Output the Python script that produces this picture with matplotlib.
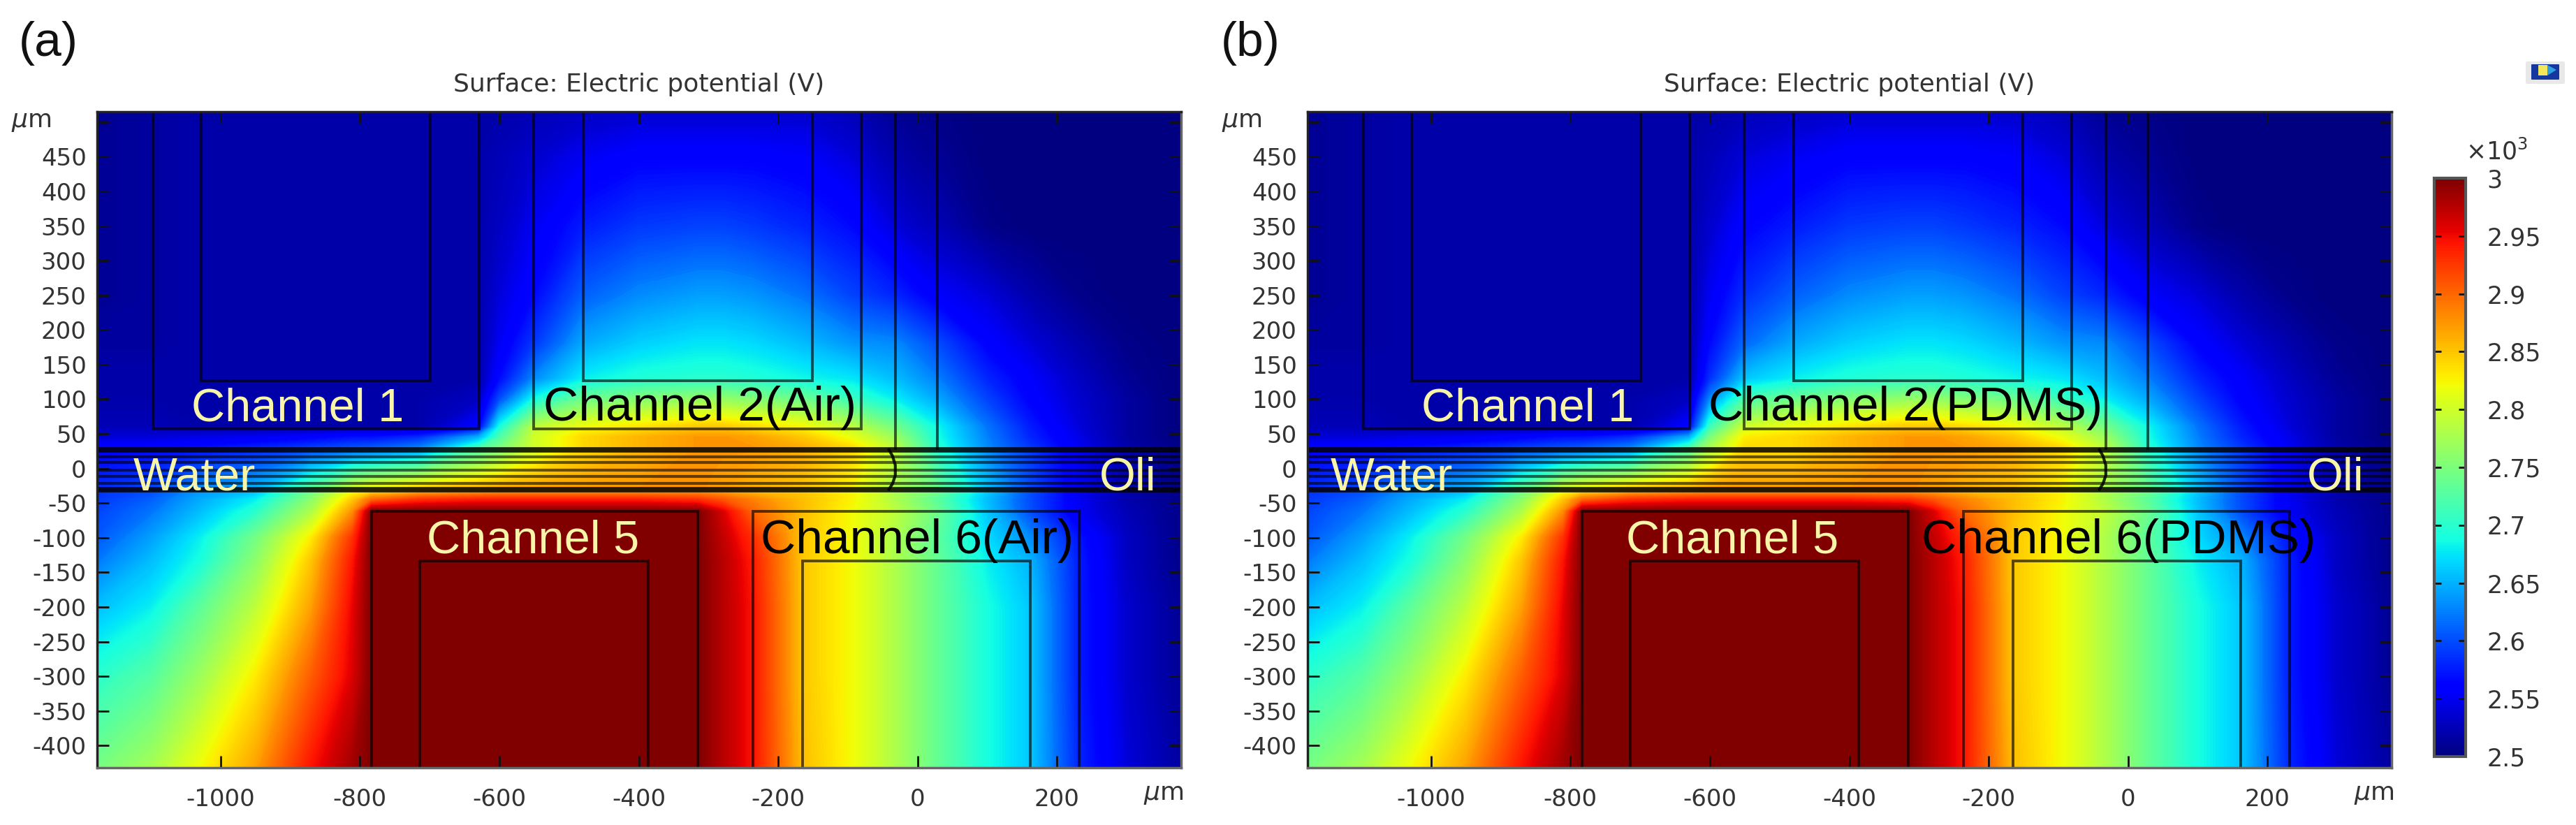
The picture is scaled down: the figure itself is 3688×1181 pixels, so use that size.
import numpy as np
import matplotlib
matplotlib.use('Agg')
from matplotlib import pyplot as plt
from matplotlib.patches import FancyBboxPatch, Rectangle, Polygon

plt.rcParams['axes.unicode_minus'] = False

W, H = 3688, 1181

# field nodes, um
x_nodes = [-1180, -1100, -1030, -950, -870, -810, -783, -715, -630, -600, -550, -480, -400,
           -315, -280, -236, -165, -93, -32, 28, 100, 162, 232, 300, 378]
y_nodes = [515, 450, 350, 250, 180, 130, 100, 60, 45, 29, -33, -45, -62, -100, -133, -200, -300, -432]

# potential in kV, one row per y node
row_515 = [2.51, 2.515, 2.52, 2.52, 2.52, 2.52, 2.52, 2.52, 2.52, 2.52, 2.525, 2.53, 2.535, 2.535, 2.535, 2.535, 2.535, 2.525, 2.51, 2.505, 2.5, 2.5, 2.5, 2.5, 2.5]
row_450 = [2.51, 2.515, 2.52, 2.52, 2.52, 2.52, 2.52, 2.52, 2.52, 2.525, 2.535, 2.55, 2.56, 2.56, 2.56, 2.56, 2.555, 2.54, 2.52, 2.51, 2.5, 2.5, 2.5, 2.5, 2.5]
row_350 = [2.51, 2.515, 2.52, 2.52, 2.52, 2.52, 2.52, 2.52, 2.52, 2.53, 2.55, 2.575, 2.59, 2.595, 2.595, 2.59, 2.58, 2.565, 2.54, 2.525, 2.505, 2.5, 2.5, 2.5, 2.5]
row_250 = [2.51, 2.515, 2.52, 2.52, 2.52, 2.52, 2.52, 2.52, 2.52, 2.54, 2.565, 2.61, 2.63, 2.64, 2.64, 2.635, 2.62, 2.595, 2.58, 2.555, 2.54, 2.52, 2.505, 2.5, 2.5]
row_180 = [2.515, 2.515, 2.52, 2.52, 2.52, 2.52, 2.52, 2.52, 2.52, 2.55, 2.59, 2.645, 2.665, 2.675, 2.675, 2.67, 2.655, 2.635, 2.63, 2.6, 2.56, 2.54, 2.52, 2.505, 2.5]
row_130 = [2.52, 2.52, 2.52, 2.52, 2.52, 2.52, 2.52, 2.52, 2.52, 2.565, 2.63, 2.68, 2.695, 2.7, 2.7, 2.695, 2.685, 2.675, 2.655, 2.625, 2.58, 2.555, 2.53, 2.51, 2.5]
row_100 = [2.52, 2.52, 2.52, 2.52, 2.52, 2.52, 2.52, 2.52, 2.53, 2.6, 2.69, 2.74, 2.755, 2.765, 2.765, 2.755, 2.74, 2.71, 2.68, 2.645, 2.595, 2.56, 2.535, 2.515, 2.5]
row_60 = [2.525, 2.525, 2.52, 2.52, 2.52, 2.52, 2.52, 2.52, 2.56, 2.69, 2.79, 2.82, 2.835, 2.85, 2.85, 2.84, 2.825, 2.79, 2.745, 2.685, 2.62, 2.575, 2.54, 2.515, 2.5]
row_45 = [2.54, 2.54, 2.545, 2.55, 2.56, 2.57, 2.57, 2.585, 2.65, 2.72, 2.8, 2.84, 2.86, 2.875, 2.875, 2.87, 2.85, 2.815, 2.77, 2.69, 2.625, 2.58, 2.545, 2.515, 2.5]
row_29 = [2.56, 2.565, 2.57, 2.58, 2.595, 2.605, 2.61, 2.63, 2.72, 2.75, 2.8, 2.84, 2.86, 2.875, 2.875, 2.875, 2.865, 2.84, 2.79, 2.7, 2.63, 2.59, 2.55, 2.52, 2.505]
row_m33 = [2.585, 2.6, 2.635, 2.655, 2.74, 2.82, 2.84, 2.86, 2.87, 2.875, 2.875, 2.875, 2.875, 2.875, 2.87, 2.86, 2.85, 2.825, 2.78, 2.74, 2.66, 2.6, 2.55, 2.52, 2.505]
row_m45 = [2.59, 2.61, 2.645, 2.68, 2.76, 2.85, 2.9, 2.93, 2.94, 2.94, 2.94, 2.94, 2.94, 2.93, 2.91, 2.885, 2.855, 2.825, 2.78, 2.73, 2.655, 2.6, 2.55, 2.52, 2.505]
row_m62 = [2.595, 2.62, 2.655, 2.7, 2.78, 2.88, 3, 3, 3, 3, 3, 3, 3, 3, 2.96, 2.9, 2.855, 2.82, 2.79, 2.74, 2.66, 2.6, 2.55, 2.525, 2.505]
row_m100 = [2.605, 2.64, 2.68, 2.745, 2.83, 2.93, 3, 3, 3, 3, 3, 3, 3, 3, 2.97, 2.93, 2.85, 2.82, 2.78, 2.73, 2.67, 2.63, 2.57, 2.53, 2.505]
row_m133 = [2.62, 2.655, 2.69, 2.76, 2.85, 2.945, 3, 3, 3, 3, 3, 3, 3, 3, 2.975, 2.94, 2.85, 2.82, 2.78, 2.735, 2.68, 2.65, 2.575, 2.53, 2.505]
row_m200 = [2.655, 2.68, 2.73, 2.79, 2.87, 2.955, 3, 3, 3, 3, 3, 3, 3, 3, 2.975, 2.945, 2.85, 2.82, 2.78, 2.735, 2.69, 2.66, 2.575, 2.535, 2.51]
row_m300 = [2.7, 2.725, 2.77, 2.83, 2.905, 2.96, 3, 3, 3, 3, 3, 3, 3, 3, 2.975, 2.945, 2.85, 2.82, 2.78, 2.735, 2.69, 2.66, 2.575, 2.535, 2.51]
row_m432 = [2.745, 2.775, 2.82, 2.87, 2.945, 2.985, 3, 3, 3, 3, 3, 3, 3, 3, 2.975, 2.945, 2.855, 2.82, 2.78, 2.735, 2.69, 2.66, 2.58, 2.54, 2.515]

field_a = np.array([row_515, row_450, row_350, row_250, row_180, row_130, row_100, row_60, row_45, row_29,
                    row_m33, row_m45, row_m62, row_m100, row_m133, row_m200, row_m300, row_m432])

# panel (b) is the same apart from the lower left of channel 2
b_col_x600 = [2.52, 2.525, 2.535, 2.55, 2.565, 2.585, 2.63, 2.71, 2.75, 2.78, 2.875, 2.94, 3, 3, 3, 3, 3, 3]
b_col_x550 = [2.525, 2.54, 2.56, 2.585, 2.615, 2.66, 2.72, 2.8, 2.83, 2.84, 2.875, 2.94, 3, 3, 3, 3, 3, 3]
field_b = field_a.copy()
field_b[:, 9] = b_col_x600
field_b[:, 10] = b_col_x550

# geometry, um
ch1_outer_x = [-1097, -1097, -629, -629]
ch1_outer_y = [515, 57, 57, 515]
ch1_inner_x = [-1028, -1028, -699, -699]
ch1_inner_y = [515, 127, 127, 515]
ch2_outer_x = [-551, -551, -81, -81]
ch2_outer_y = [515, 57, 57, 515]
ch2_inner_x = [-480, -480, -151, -151]
ch2_inner_y = [515, 127, 127, 515]
ch5_outer_x = [-783, -783, -315, -315]
ch5_outer_y = [-432, -62, -62, -432]
ch5_inner_x = [-714, -714, -386, -386]
ch5_inner_y = [-432, -133, -133, -432]
ch6_outer_x = [-236, -236, 232, 232]
ch6_outer_y = [-432, -62, -62, -432]
ch6_inner_x = [-165, -165, 162, 162]
ch6_inner_y = [-432, -133, -133, -432]
side_x = [-32, 28]
side_y = [29, 515]
stream_y = [26.8, 16.7, 8.6, -2.5, -11.6, -21.7, -30.8]
stream_heavy = [26.8, -30.8]
interface_x = [-41, -36, -32, -32, -36, -41]
interface_y = [27, 18, 5, -10, -22, -30]

x_ticks = [-1000, -800, -600, -400, -200, 0, 200]
y_ticks = [500, 450, 400, 350, 300, 250, 200, 150, 100, 50, 0, -50, -100, -150, -200, -250, -300, -350, -400]
cbar_ticks = [2.5, 2.55, 2.6, 2.65, 2.7, 2.75, 2.8, 2.85, 2.9, 2.95, 3]
cbar_labels = ['2.5', '2.55', '2.6', '2.65', '2.7', '2.75', '2.8', '2.85', '2.9', '2.95', '3']

labels_a = [('Channel 1', -1042, 69, '#f8f4a8', 48), ('Channel 2(Air)', -537, 69, 'black', 50),
            ('Water', -1125, -31, '#f8f4a8', 48), ('Oli', 261, -31, '#f8f4a8', 48),
            ('Channel 5', -704, -122, '#f8f4a8', 48), ('Channel 6(Air)', -225, -122, 'black', 50)]
labels_b = [('Channel 1', -1014, 69, '#f8f4a8', 48), ('Channel 2(PDMS)', -602, 69, 'black', 50),
            ('Water', -1144, -31, '#f8f4a8', 48), ('Oli', 257, -31, '#f8f4a8', 48),
            ('Channel 5', -720, -122, '#f8f4a8', 48), ('Channel 6(PDMS)', -296, -122, 'black', 50)]

fig = plt.figure(figsize=(W / 100, H / 100), dpi=100)


def box(x0, y0, x1, y1):
    # pixel box to figure fraction
    return [x0 / W, 1 - y1 / H, (x1 - x0) / W, (y1 - y0) / H]


levels = np.linspace(2.5, 3.0, 251)


def panel(x0, field, labels, letter, letter_x):
    ax = fig.add_axes(box(x0, 160, x0 + 1552, 1099))
    ax.contourf(x_nodes, y_nodes, field, levels=levels, cmap='jet', vmin=2.5, vmax=3, extend='both', antialiased=False)
    ax.set_xlim(-1177, 378)
    ax.set_ylim(-432, 515)

    for xs, ys in [(ch1_outer_x, ch1_outer_y), (ch1_inner_x, ch1_inner_y), (ch2_outer_x, ch2_outer_y),
                   (ch2_inner_x, ch2_inner_y), (ch5_outer_x, ch5_outer_y), (ch5_inner_x, ch5_inner_y),
                   (ch6_outer_x, ch6_outer_y), (ch6_inner_x, ch6_inner_y)]:
        ax.plot(xs, ys, color='black', lw=2.8, alpha=0.65, solid_joinstyle='miter')
    for sx in side_x:
        ax.plot([sx, sx], side_y, color='black', lw=2.8, alpha=0.65)
    for sy in stream_y:
        if sy in stream_heavy:
            ax.axhline(sy, color='black', lw=5.5, alpha=0.85)
        else:
            ax.axhline(sy, color='black', lw=3, alpha=0.6)
    ax.plot(interface_x, interface_y, color='black', lw=3, alpha=0.85)

    for txt, tx, ty, col, size in labels:
        ax.text(tx, ty, txt, color=col, fontsize=size, family='Liberation Sans', ha='left', va='baseline')

    ax.set_xticks(x_ticks)
    ax.set_xticklabels([str(v) for v in x_ticks])
    ax.set_yticks(y_ticks)
    ax.set_yticklabels([''] + [str(v) for v in y_ticks[1:]])
    ax.tick_params(axis='both', direction='in', top=True, right=True, length=12, width=2, labelsize=24.5,
                   labelcolor='#333333', color='#111111')
    ax.tick_params(axis='x', pad=21)
    ax.tick_params(axis='y', pad=11)
    for s in ax.spines.values():
        s.set_linewidth(2.5)
        s.set_color('#222222')
    ax.spines['bottom'].set_color('#666666')
    ax.spines['right'].set_color('#666666')

    ax.set_title('Surface: Electric potential (V)', fontsize=26, color='#333333', pad=21)
    fig.text((x0 - 123) / W, 1 - 174 / H, r'$\mu$m', fontsize=26, color='#333333', ha='left', va='center')
    fig.text((x0 + 1498) / W, 1 - 1137 / H, r'$\mu$m', fontsize=26, color='#333333', ha='left', va='center')
    fig.text(letter_x / W, 1 - 62 / H, letter, fontsize=50, family='Liberation Sans', color='#111111', ha='left', va='center')
    return ax


panel(139, field_a, labels_a, '(a)', 27)
panel(1872, field_b, labels_b, '(b)', 1748)

# colorbar
cax = fig.add_axes(box(3485, 255, 3530, 1083))
sm = plt.cm.ScalarMappable(norm=plt.Normalize(2.5, 3), cmap='jet')
cb = fig.colorbar(sm, cax=cax)
cb.set_ticks(cbar_ticks)
cb.set_ticklabels(cbar_labels)
cax.tick_params(axis='y', direction='in', left=True, right=True, length=7, width=2, labelsize=25,
                labelcolor='#333333', color='#111111', pad=22)
cb.outline.set_linewidth(3)
cb.outline.set_edgecolor('#555555')
fig.text(3530 / W, 1 - 217 / H, r'$\times$10$^3$', fontsize=25, color='#333333', ha='left', va='center')

# little icon top right
icon = fig.add_axes([0, 0, 1, 1], facecolor='none')
icon.set_xlim(0, W)
icon.set_ylim(H, 0)
icon.axis('off')
icon.add_patch(FancyBboxPatch((3618, 90), 52, 28, boxstyle='round,pad=2', fc='#e8e8e8', ec='none'))
icon.add_patch(FancyBboxPatch((3625, 93), 38, 20, boxstyle='round,pad=1', fc='#1438a0', ec='none'))
icon.add_patch(Rectangle((3634, 93), 13, 15, fc='#f4e65a', ec='none'))
icon.add_patch(Polygon([(3647, 93), (3660, 100), (3647, 108)], fc='#2f9fe0', ec='none'))

fig.savefig('out.png', dpi=100)
